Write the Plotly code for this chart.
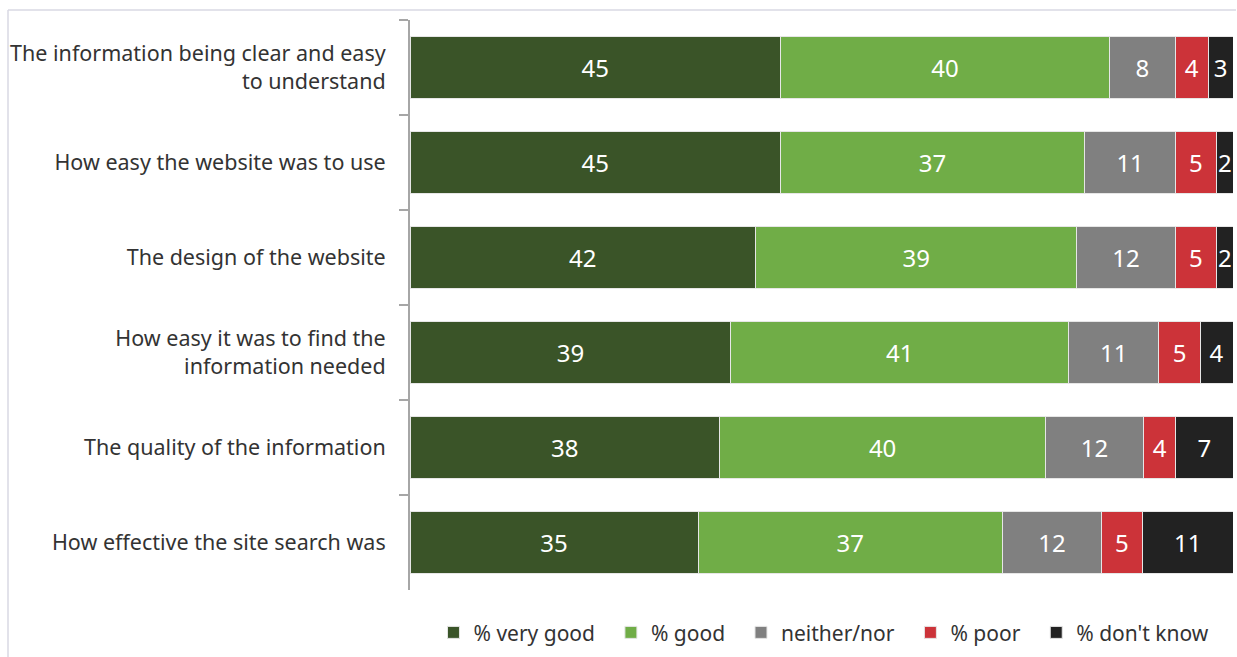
import plotly.graph_objects as go

# Survey items (top to bottom)
items = [
    "The information being clear and easy<br>to understand",
    "How easy the website was to use",
    "The design of the website",
    "How easy it was to find the<br>information needed",
    "The quality of the information",
    "How effective the site search was",
]

series_names = ["% very good", "% good", "neither/nor", "% poor", "% don't know"]
very_good = [45, 45, 42, 39, 38, 35]
good = [40, 37, 39, 41, 40, 37]
neither = [8, 11, 12, 11, 12, 12]
poor = [4, 5, 5, 5, 4, 5]
dont_know = [3, 2, 2, 4, 7, 11]

colors = ["#3a5428", "#70ad47", "#808080", "#cc3339", "#222222"]
series_values = [very_good, good, neither, poor, dont_know]

W, H = 1237, 657
ML, MR, MT, MB = 410, 4, 20, 67
FONT = "Noto Sans"
PAD = "\u00a0" * 2  # extra room between legend entries

fig = go.Figure()
for i, (name, vals, col) in enumerate(zip(series_names, series_values, colors)):
    fig.add_trace(go.Bar(
        y=items, x=vals, name=name + (PAD if i < len(series_names) - 1 else ""),
        orientation="h",
        marker=dict(color=col, line=dict(color="#e6e6e6", width=1)),
        text=[str(v) for v in vals], textposition="inside",
        insidetextanchor="middle", textangle=0,
        insidetextfont=dict(color="white", size=24, family=FONT),
        hoverinfo="skip",
    ))

# light frame along the top and left of the chart area
pw, ph = W - ML - MR, H - MT - MB
x_left = (8 - ML) / pw
x_right = (1236 - ML) / pw
y_top = (H - MB - 10) / ph
y_bot = (H - MB - 657) / ph
frame = dict(color="#d9d9e3", width=1.5)
fig.add_shape(type="line", xref="paper", yref="paper",
              x0=x_left, x1=x_right, y0=y_top, y1=y_top, line=frame)
fig.add_shape(type="line", xref="paper", yref="paper",
              x0=x_left, x1=x_left, y0=y_top, y1=y_bot, line=frame)

fig.update_layout(
    width=W, height=H,
    margin=dict(l=ML, r=MR, t=MT, b=MB, pad=0, autoexpand=False),
    barmode="stack", barnorm="percent", bargap=0.345,
    plot_bgcolor="white", paper_bgcolor="white",
    font=dict(family=FONT, size=21, color="#333333"),
    uniformtext=dict(minsize=24, mode="show"),
    showlegend=True,
    legend=dict(orientation="h", x=0.503, xanchor="center", y=-0.039, yanchor="top",
                font=dict(size=21, color="#333333"), traceorder="normal",
                itemwidth=30, entrywidth=0),
    xaxis=dict(visible=False, range=[0, 100], fixedrange=True),
    yaxis=dict(autorange="reversed", showline=True, linecolor="#a6a6a6", linewidth=2,
               ticks="outside", ticklen=9, tickcolor="#a6a6a6", tickwidth=2,
               tickson="boundaries", showgrid=False, ticklabelstandoff=18,
               tickfont=dict(size=21.5, color="#333333")),
)

fig.write_html("out.html")
